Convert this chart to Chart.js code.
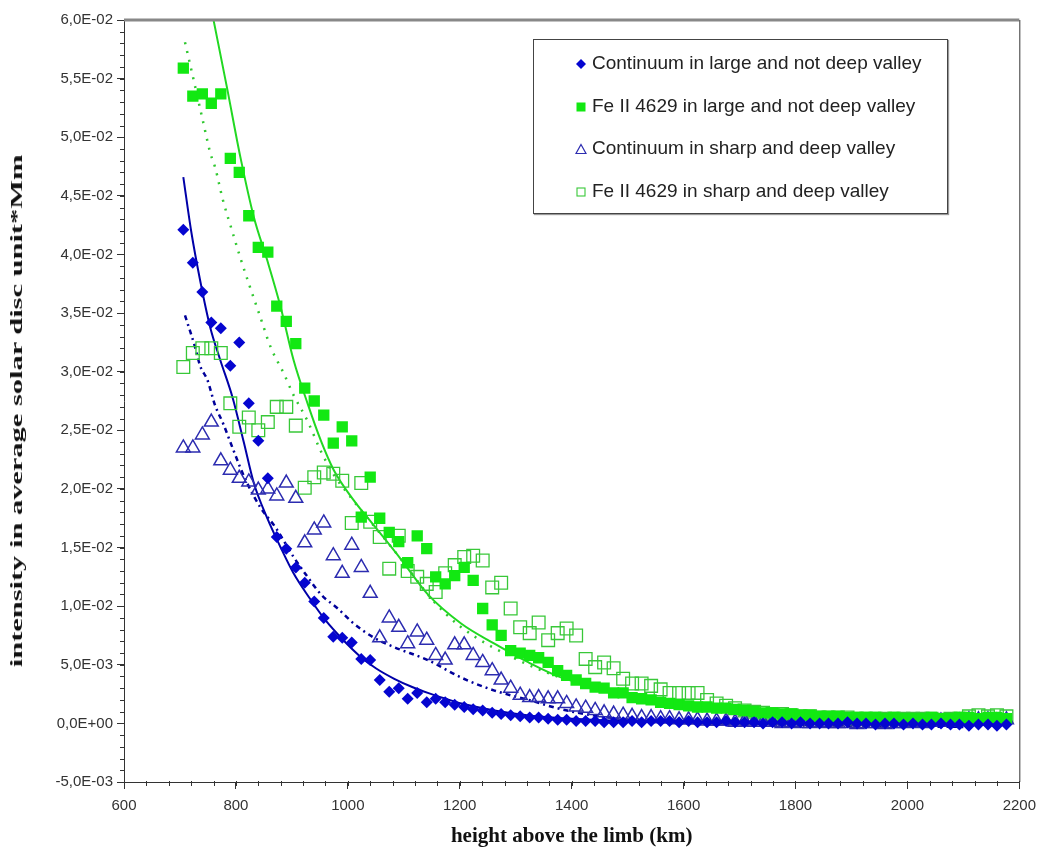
<!DOCTYPE html>
<html>
<head>
<meta charset="utf-8">
<script src="https://cdn.jsdelivr.net/npm/chart.js@4.4.1/dist/chart.umd.min.js"></script>
<style>
  body { margin: 0; background: #fff; }
  #wrap { position: relative; width: 1044px; height: 849px; }
  #legend {
    position: absolute; left: 533px; top: 39px; width: 415px; height: 175px;
    box-sizing: border-box; border: 1px solid #444; box-shadow: 1px 1px 1px #999;
    background: #fff; font: 19px "Liberation Sans", Arial, sans-serif; color: #222;
  }
  #legend .row { position: absolute; left: 41px; height: 22px; line-height: 22px; white-space: nowrap; }
  #legend svg { vertical-align: -1px; margin-right: 5px; }
  #ytitle {
    position: absolute; left: 17px; top: 411px; white-space: nowrap;
    font: bold 17px "Liberation Serif", serif; color: #111;
  }
</style>
</head>
<body>
<div id="wrap">
  <canvas id="chart" width="1044" height="849"></canvas>
  <div id="legend"></div>
  <div id="ytitle">intensity in average solar disc unit*Mm</div>
</div>
<script>
// heights (km) where the four observed series were sampled
const heights = [
  706, 723, 740, 756, 773, 790, 806, 823, 840, 857,
  873, 890, 907, 923, 940, 957, 974, 990, 1007, 1024,
  1040, 1057, 1074, 1091, 1107, 1124, 1141, 1157, 1174, 1191,
  1208, 1224, 1241, 1258, 1274, 1291, 1308, 1325, 1341, 1358,
  1375, 1391, 1408, 1425, 1442, 1458, 1475, 1492, 1508, 1525,
  1542, 1559, 1575, 1592, 1609, 1625, 1642, 1659, 1676, 1692,
  1709, 1726, 1742, 1759, 1776, 1793, 1809, 1826, 1843, 1859,
  1876, 1893, 1910, 1926, 1943, 1960, 1976, 1993, 2010, 2027,
  2043, 2060, 2077, 2093, 2110, 2127, 2144, 2160, 2177
];

const contLarge = [
  .0421, .0393, .0368, .0342, .0337, .0305, .0325, .0273, .0241, .0209,
  .0159, .0149, .0133, .0120, .0104, .0090, .0074, .0073, .0069, .0055,
  .0054, .0037, .0027, .0030, .0021, .0026, .0018, .0021, .0018, .0016,
  .0014, .0012, .0011, .0009, .0008, .0007, .0006, .0005, .0005, .0004,
  .0003, .0003, .0002, .0002, .0002, .0001, .0001, .0001, .0002, .0001,
  .0002, .0002, .0002, .0001, .0002, .0001, .0001, .0001, .0002, .0001,
  .0001, .0001, .0000, .0001, .0001, .0000, .0001, .0000, .0000, .0000,
  .0000, .0001, .0000, .0000, -.0001, .0000, .0000, -.0001, .0000, -.0001,
  -.0001, .0000, -.0001, -.0001, -.0002, -.0001, -.0001, -.0002, -.0001
];

const feLarge = [
  .0559, .0535, .0537, .0529, .0537, .0482, .0470, .0433, .0406, .0402,
  .0356, .0343, .0324, .0286, .0275, .0263, .0239, .0253, .0241, .0176,
  .0210, .0175, .0163, .0155, .0137, .0160, .0149, .0125, .0119, .0126,
  .0133, .0122, .0098, .0084, .0075, .0062, .0060, .0058, .0056, .0052,
  .0045, .0041, .0037, .0034, .0031, .0030, .0026, .0026, .0022, .0021,
  .0020, .0018, .0017, .0016, .0015, .0014, .0014, .0013, .0013, .0012,
  .0011, .0010, .0009, .0009, .0008, .0008, .0007, .0007, .0006, .0006,
  .0006, .0005, .0005, .0005, .0005, .0004, .0005, .0004, .0004, .0004,
  .0005, .0004, .0004, .0005, .0005, .0004, .0005, .0005, .0004
];

const contSharp = [
  .0235, .0235, .0246, .0257, .0224, .0216, .0209, .0206, .0199, .0200,
  .0194, .0205, .0192, .0154, .0165, .0171, .0143, .0128, .0152, .0133,
  .0111, .0073, .0090, .0082, .0068, .0078, .0071, .0058, .0054, .0067,
  .0067, .0058, .0052, .0045, .0037, .0030, .0024, .0022, .0022, .0021,
  .0021, .0017, .0014, .0013, .0011, .0009, .0008, .0007, .0006, .0005,
  .0005, .0004, .0004, .0003, .0003, .0003, .0002, .0002, .0002, .0001,
  .0002, .0001, .0001, .0001, .0000, .0001, .0000, .0000, .0001, .0000,
  .0000, .0000, -.0001, .0000, .0000, -.0001, .0000, .0000, .0001, .0000,
  .0001, .0002, .0001, .0002, .0003, .0003, .0003, .0002, .0003
];

const feSharp = [
  .0304, .0316, .0320, .0320, .0316, .0273, .0253, .0261, .0250, .0257,
  .0270, .0270, .0254, .0201, .0210, .0214, .0213, .0207, .0171, .0205,
  .0172, .0159, .0132, .0160, .0130, .0125, .0119, .0112, .0128, .0135,
  .0142, .0143, .0139, .0116, .0120, .0098, .0082, .0077, .0086, .0071,
  .0077, .0081, .0075, .0055, .0048, .0052, .0047, .0038, .0034, .0034,
  .0032, .0029, .0026, .0026, .0026, .0026, .0020, .0017, .0015, .0013,
  .0011, .0010, .0009, .0008, .0008, .0007, .0006, .0006, .0005, .0005,
  .0005, .0005, .0004, .0004, .0004, .0004, .0004, .0004, .0004, .0004,
  .0004, .0003, .0004, .0004, .0006, .0007, .0006, .0007, .0006
];

// fitted curves
const contLargeFitX = [706, 720, 736, 754, 772, 794, 814, 832, 856, 880, 903, 930, 960, 990, 1020, 1050, 1083, 1115, 1143, 1175, 1203, 1262, 1320, 1400, 1500, 1600, 1700, 1850, 2000, 2180];
const contLargeFitY = [.0466, .0420, .0378, .0338, .0310, .0278, .0240, .0205, .0175, .0150, .0128, .0108, .0088, .0072, .0058, .0047, .0038, .0031, .0026, .0021, .0017, .0011, .0007, .0004, .0002, .0001, .0000, .0000, -.0001, -.0001];

const feLargeFitX = [760, 785, 808, 832, 856, 880, 903, 928, 952, 975, 1011, 1036, 1065, 1095, 1143, 1203, 1262, 1323, 1382, 1441, 1500, 1600, 1700, 1800, 1900, 2000, 2180];
const feLargeFitY = [.0600, .0540, .0483, .0432, .0395, .0355, .0310, .0273, .0241, .0216, .0190, .0175, .0158, .0140, .0110, .0085, .0068, .0052, .0039, .0031, .0024, .0016, .0011, .0008, .0006, .0005, .0004];

const contSharpFitX = [709, 727, 736, 749, 763, 777, 794, 808, 820, 844, 871, 903, 928, 952, 982, 1011, 1047, 1083, 1143, 1203, 1262, 1323, 1382, 1450, 1550, 1700, 1900, 2100];
const contSharpFitY = [.0348, .0321, .0305, .0293, .0271, .0256, .0235, .0218, .0205, .0184, .0167, .0142, .0125, .0110, .0098, .0085, .0073, .0065, .0054, .0039, .0028, .0020, .0012, .0006, .0002, .0000, -.0002, -.0003];

const feSharpFitX = [709, 722, 741, 754, 763, 777, 792, 808, 826, 844, 862, 885, 903, 928, 952, 975, 1000, 1030, 1070, 1100, 1150, 1200, 1300, 1400, 1500, 1600, 1800, 2000, 2180];
const feSharpFitY = [.0581, .0554, .0514, .0487, .0474, .0446, .0422, .0397, .0371, .0346, .0321, .0299, .0280, .0258, .0232, .0212, .0196, .0178, .0155, .0137, .0106, .0083, .0055, .0036, .0025, .0017, .0008, .0005, .0004];

const xTicks = [600, 800, 1000, 1200, 1400, 1600, 1800, 2000, 2200];

const pts = (xs, ys) => xs.map((x, i) => ({ x: x, y: ys[i] }));

function sci(v) {
  if (Math.abs(v) < 1e-12) return '0,0E+00';
  const e = Math.floor(Math.log10(Math.abs(v)) + 1e-9);
  const m = v / Math.pow(10, e);
  return m.toFixed(1).replace('.', ',') + 'E' + (e < 0 ? '-' : '+') + String(Math.abs(e)).padStart(2, '0');
}

const axisDecor = {
  id: 'axisDecor',
  afterDraw(chart) {
    const { ctx, chartArea: a, scales: { x, y } } = chart;
    ctx.save();
    ctx.strokeStyle = '#333';
    ctx.lineWidth = 1;
    ctx.beginPath();
    for (let v = 600; v <= 2200; v += 40) {
      const px = Math.round(x.getPixelForValue(v)) + 0.5;
      ctx.moveTo(px, a.bottom - 1);
      ctx.lineTo(px, a.bottom + 4);
    }
    for (let i = 0; i <= 65; i++) {
      const py = Math.round(y.getPixelForValue(-0.005 + i * 0.001)) + 0.5;
      ctx.moveTo(a.left - 4, py);
      ctx.lineTo(a.left + 1, py);
    }
    ctx.stroke();
    ctx.strokeStyle = '#888';
    ctx.lineWidth = 3;
    ctx.beginPath();
    ctx.moveTo(a.left, a.top);
    ctx.lineTo(a.right, a.top);
    ctx.stroke();
    ctx.strokeStyle = '#333';
    ctx.lineWidth = 1;
    ctx.beginPath();
    ctx.moveTo(a.right + 0.5, a.top);
    ctx.lineTo(a.right + 0.5, a.bottom);
    ctx.stroke();
    ctx.restore();
  }
};

const chart = new Chart(document.getElementById('chart'), {
  type: 'scatter',
  data: {
    datasets: [
      {
        label: 'Continuum in large and not deep valley',
        data: pts(heights, contLarge),
        pointStyle: 'rectRot', pointRadius: 6,
        backgroundColor: '#0505d0', borderColor: '#0505d0', borderWidth: 0
      },
      {
        label: 'Fe II 4629 in large and not deep valley',
        data: pts(heights, feLarge),
        pointStyle: 'rect', pointRadius: 8,
        backgroundColor: '#12e812', borderColor: '#12e812', borderWidth: 0
      },
      {
        label: 'Continuum in sharp and deep valley',
        data: pts(heights, contSharp),
        pointStyle: 'triangle', pointRadius: 8,
        backgroundColor: 'rgba(0,0,0,0)', borderColor: '#2c2cb0', borderWidth: 1.5
      },
      {
        label: 'Fe II 4629 in sharp and deep valley',
        data: pts(heights, feSharp),
        pointStyle: 'rect', pointRadius: 9,
        backgroundColor: 'rgba(0,0,0,0)', borderColor: '#38c838', borderWidth: 1.3
      },
      {
        label: 'fit continuum large', fit: true,
        data: pts(contLargeFitX, contLargeFitY),
        showLine: true, pointRadius: 0, borderColor: '#0000a8', borderWidth: 2,
        cubicInterpolationMode: 'monotone'
      },
      {
        label: 'fit Fe II large', fit: true,
        data: pts(feLargeFitX, feLargeFitY),
        showLine: true, pointRadius: 0, borderColor: '#22d822', borderWidth: 2,
        cubicInterpolationMode: 'monotone'
      },
      {
        label: 'fit continuum sharp', fit: true,
        data: pts(contSharpFitX, contSharpFitY),
        showLine: true, pointRadius: 0, borderColor: '#00009a', borderWidth: 2.5,
        borderDash: [5, 4, 2, 4], cubicInterpolationMode: 'monotone'
      },
      {
        label: 'fit Fe II sharp', fit: true,
        data: pts(feSharpFitX, feSharpFitY),
        showLine: true, pointRadius: 0, borderColor: '#30c830', borderWidth: 2.5,
        borderDash: [2, 7], cubicInterpolationMode: 'monotone'
      }
    ]
  },
  options: {
    responsive: false,
    animation: false,
    layout: { padding: { top: 20, right: 23, bottom: 0, left: 0 } },
    plugins: {
      legend: { display: false },
      tooltip: { enabled: false }
    },
    scales: {
      x: {
        type: 'linear', min: 600, max: 2200,
        afterFit: (s) => { s.height = 67; },
        afterBuildTicks: (s) => { s.ticks = xTicks.map(v => ({ value: v })); },
        grid: { drawOnChartArea: false, tickLength: 7, tickColor: '#333' },
        border: { color: '#333', width: 1 },
        ticks: {
          padding: 8, color: '#333',
          font: { family: '"Liberation Sans", Arial, sans-serif', size: 15 },
          callback: (v) => String(v)
        },
        title: {
          display: true, text: 'height above the limb (km)', color: '#111',
          padding: { top: 0, bottom: 0 },
          font: { family: '"Liberation Serif", serif', size: 21, weight: 'bold' }
        }
      },
      y: {
        type: 'linear', min: -0.005, max: 0.06,
        afterFit: (s) => { s.width = 124; },
        grid: { drawOnChartArea: false, tickLength: 7, tickColor: '#333' },
        border: { color: '#333', width: 1 },
        ticks: {
          stepSize: 0.005, padding: 4, color: '#333',
          font: { family: '"Liberation Sans", Arial, sans-serif', size: 15 },
          callback: (v) => sci(v)
        },
        title: { display: false }
      }
    }
  },
  plugins: [axisDecor]
});

// legend box drawn from the marker datasets
function markerSvg(ds) {
  const fill = ds.backgroundColor, stroke = ds.borderColor;
  let shape;
  if (ds.pointStyle === 'rectRot') shape = '<polygon points="6,1 11,6 6,11 1,6" fill="' + fill + '"/>';
  else if (ds.pointStyle === 'triangle') shape = '<polygon points="6,1.5 11,10.5 1,10.5" fill="none" stroke="' + stroke + '" stroke-width="1.2"/>';
  else if (fill === 'rgba(0,0,0,0)') shape = '<rect x="2" y="2" width="8" height="8" fill="none" stroke="' + stroke + '" stroke-width="1.1"/>';
  else shape = '<rect x="1.5" y="1.5" width="9" height="9" fill="' + fill + '"/>';
  return '<svg width="12" height="12" viewBox="0 0 12 12">' + shape + '</svg>';
}
const legendEl = document.getElementById('legend');
const rowTops = [12, 55, 97, 140];
chart.data.datasets.filter(ds => !ds.fit).forEach((ds, i) => {
  const row = document.createElement('div');
  row.className = 'row';
  row.style.top = rowTops[i] + 'px';
  row.innerHTML = markerSvg(ds);
  row.appendChild(document.createTextNode(ds.label));
  legendEl.appendChild(row);
});

// y axis title, stretched along its length like the original
const yt = document.getElementById('ytitle');
const k = 512 / yt.offsetWidth;
yt.style.transform = 'translate(-50%, -50%) rotate(-90deg) scaleX(' + k.toFixed(3) + ')';
</script>
</body>
</html>
